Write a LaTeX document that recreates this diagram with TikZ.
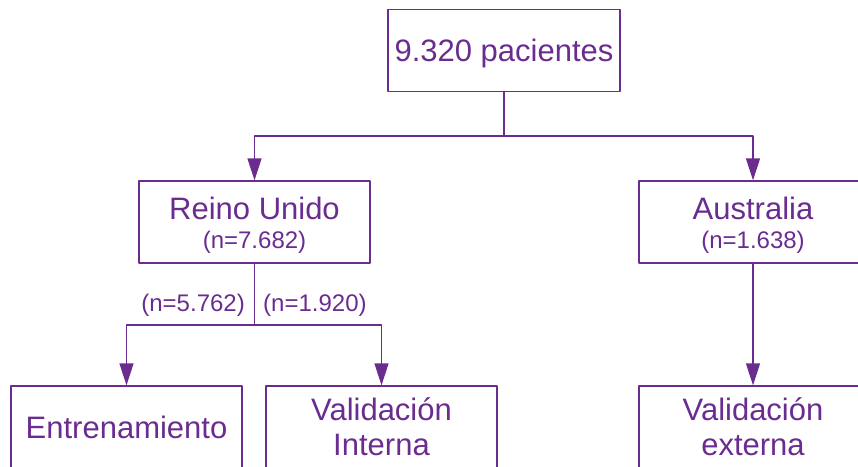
\documentclass[tikz,border=0pt]{standalone}
\usepackage{fontspec}
\setmainfont{Liberation Sans}
\usetikzlibrary{arrows.meta,positioning}
\definecolor{morado}{HTML}{6A2C8F}
\newcommand{\cuenta}[1]{{\fontsize{24}{28}\selectfont (n=#1)}}
\begin{document}
\begin{tikzpicture}[x=1pt, y=-1pt, line join=round, >={Triangle[length=22pt,width=14pt]},
	caja/.style={draw=morado, line width=1.3pt, text=morado, minimum width=231pt, minimum height=82pt, align=center, inner sep=0pt, font=\fontsize{31}{35}\selectfont},
	flecha/.style={color=morado, line width=1.3pt},
	nota/.style={text=morado, inner sep=0pt, font=\fontsize{24}{28}\selectfont}]
	\useasboundingbox (0,0) rectangle (858,466);
	\node[caja, minimum width=232pt, text depth=0pt] (total) at (504,50.5) {9.320 pacientes};
	\node[caja] (ru) at (254.5,222) {\rule{0pt}{29.5pt}Reino Unido\\[-6pt]\cuenta{7.682}};
	\node[caja, minimum width=228pt] (au) at (753,222) {\rule{0pt}{29.5pt}Australia\\[-6pt]\cuenta{1.638}};
	\node[caja] (ent) at (126.5,427) {Entrenamiento};
	\node[caja] (vi) at (381.5,427) {Validación\\Interna};
	\node[caja, minimum width=228pt] (ve) at (753,427) {Validación\\externa};
	\path
	(504,136) coordinate (d1)
	(254.5,325) coordinate (d2)
	;
	\draw[flecha] (total) -- (d1);
	\foreach \h in {ru,au}
	\draw[flecha,->] (d1) -| (\h);
	\draw[flecha] (ru) -- (d2);
	\foreach \h in {ent,vi}
	\draw[flecha,->] (d2) -| (\h);
	\draw[flecha,->] (au) -- (ve);
	\node[nota, anchor=east] (n1) at (245,305) {(n=5.762)};
	\node[nota, anchor=west] (n2) at (263,305) {(n=1.920)};
\end{tikzpicture}
\end{document}
